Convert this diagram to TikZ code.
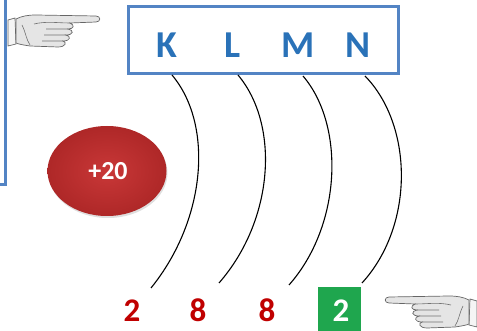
\documentclass[tikz,border=0pt]{standalone}
\usepackage{fontspec}
\setmainfont{Carlito}
\usetikzlibrary{shapes.geometric,shadows}

\definecolor{boxblue}{HTML}{5384C4}
\definecolor{shellblue}{HTML}{2A72B8}
\definecolor{countred}{HTML}{C00000}
\definecolor{nucred}{HTML}{C62D2D}
\definecolor{lastgreen}{HTML}{1FA64E}

\tikzset{
  shell/.style={font=\fontsize{38}{38}\selectfont\bfseries, text=shellblue, anchor=base},
  count/.style={font=\fontsize{33}{33}\selectfont\bfseries, text=countred, anchor=base},
  orbit/.style={line width=1.1pt, black},
  % pointing hand, cuff at x=0, finger tip at x=92
  pics/hand/.style={code={
    \draw[black!60, fill=black!4, line width=0.7pt]
      (0,5) -- (7,3) -- (8,29) -- (0,31) -- cycle;
    \draw[black!60, fill=black!10, line width=0.7pt]
      (8,4) .. controls (14,1) and (20,0) .. (28,0) -- (88,1)
      .. controls (93,1) and (93,7) .. (88,7) -- (62,8)
      .. controls (67,10) and (66,14) .. (60,14)
      .. controls (66,15) and (66,20) .. (58,20)
      .. controls (63,21) and (63,26) .. (55,26)
      .. controls (59,27) and (58,32) .. (50,32)
      -- (22,31) .. controls (15,30) and (10,29) .. (8,28) -- cycle;
    \draw[black!55, line width=0.6pt]
      (26,9) .. controls (38,6) and (50,8) .. (62,8)
      (38,14) -- (60,14) (36,20) -- (58,20) (34,26) -- (55,26)
      (14,10) .. controls (18,18) and (18,24) .. (22,30);
  }}
}

\begin{document}
\begin{tikzpicture}[x=1pt,y=-1pt]
\useasboundingbox (0,0) rectangle (477,331);

% box cut off at the left edge
\draw[boxblue, line width=3pt] (-10,185) -| (5,-10);

% shell box
\draw[boxblue, line width=3pt] (128,7) rectangle (398,74);
\node[shell] (K) at (167,58) {K};
\node[shell] (L) at (233,58) {L};
\node[shell] (M) at (298,58) {M};
\node[shell] (N) at (358,58) {N};

% nucleus
\node[ellipse, minimum width=119pt, minimum height=90pt, inner sep=0pt,
      inner color=nucred!95!white, outer color=nucred!88!black,
      drop shadow={opacity=0.25, shadow xshift=1pt, shadow yshift=-2pt}]
      (nuc) at (107,171) {};
\node[font=\fontsize{26}{26}\selectfont\bfseries, text=white, anchor=base] (charge) at (108,180) {+20};

% electrons per shell
\node[count] (e1) at (132,322) {2};
\node[count] (e2) at (198,322) {8};
\node[count] (e3) at (267,322) {8};
\node[fill=lastgreen, minimum width=43pt, minimum height=50pt, inner sep=0pt] (e4box) at (339.5,312) {};
\node[font=\fontsize{33}{33}\selectfont\bfseries, text=white, anchor=base] (e4) at (341,322) {2};

% orbits
\coordinate (k1) at (172,75);  \coordinate (k2) at (151,288);
\coordinate (l1) at (238,75);  \coordinate (l2) at (219,283);
\coordinate (m1) at (303,76);  \coordinate (m2) at (289,285);
\coordinate (n1) at (365,76);  \coordinate (n2) at (362,283);
\draw[orbit] (k1) .. controls (214,125) and (206,220) .. (k2);
\draw[orbit] (l1) .. controls (280,125) and (274,220) .. (l2);
\draw[orbit] (m1) .. controls (345,125) and (342,225) .. (m2);
\draw[orbit] (n1) .. controls (413,125) and (415,225) .. (n2);

% pointing hands
\pic at (8,15) {hand};
\pic[xscale=-1] at (477,296) {hand};
\end{tikzpicture}
\end{document}
